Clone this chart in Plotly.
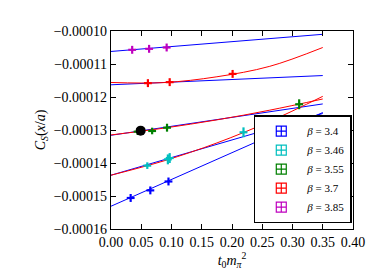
import plotly.graph_objects as go

betas = ["3.4", "3.46", "3.55", "3.7", "3.85"]
colors = ["#0000ff", "#00bfbf", "#008000", "#ff0000", "#bf00bf"]

# data points (t0 m_pi^2, C_S in units of 1e-5)
pts_x = [
    [0.0325, 0.065, 0.095],
    [0.060, 0.094, 0.097, 0.219],
    [0.044, 0.068, 0.0926, 0.311],
    [0.061, 0.097, 0.201],
    [0.035, 0.063, 0.092],
]
pts_y = [
    [-15.06, -14.83, -14.56],
    [-14.08, -13.89, -13.85, -13.07],
    [-13.05, -13.03, -12.93, -12.22],
    [-11.58, -11.55, -11.30],
    [-10.57, -10.54, -10.50],
]
pts_ey = [
    [0.12, 0.12, 0.12],
    [0.10, 0.15, 0.15, 0.15],
    [0.10, 0.10, 0.12, 0.15],
    [0.12, 0.12, 0.12],
    [0.12, 0.12, 0.12],
]
ex = 0.0065

# linear fits (blue), values at x=0 and x=0.35
lin_x = [0.0, 0.35]
lin_y = [
    [-15.31, -12.47],
    [-14.37, -12.50],
    [-13.16, -12.21],
    [-11.63, -11.35],
    [-10.62, -10.10],
]
# curved fits (red), read at these x positions
curv_x = [0.0, 0.0875, 0.175, 0.2625, 0.35]
curv_y = {
    "3.46": [-14.37, -13.935, -13.392, -12.74, -11.98],
    "3.55": [-13.15, -12.943, -12.693, -12.399, -12.06],
    "3.7": [-11.56, -11.563, -11.387, -11.07, -10.50],
}

# physical point marker
phys_x = [0.049]
phys_y = [-13.02]

scale = 1e-5
fig = go.Figure()

for i, b in enumerate(betas):
    fig.add_trace(go.Scatter(x=lin_x, y=[v * scale for v in lin_y[i]], mode="lines",
                             line=dict(color="#0000ff", width=1), showlegend=False,
                             hoverinfo="skip"))
for b, ys in curv_y.items():
    fig.add_trace(go.Scatter(x=curv_x, y=[v * scale for v in ys], mode="lines",
                             line=dict(color="#ff0000", width=1, shape="spline"),
                             showlegend=False, hoverinfo="skip"))

for i, b in enumerate(betas):
    fig.add_trace(go.Scatter(
        x=pts_x[i], y=[v * scale for v in pts_y[i]], mode="markers",
        marker=dict(color=colors[i], size=2),
        error_x=dict(type="constant", value=ex, color=colors[i], thickness=2.2, width=0),
        error_y=dict(type="data", array=[v * scale for v in pts_ey[i]], color=colors[i],
                     thickness=2.2, width=0),
        showlegend=False))

fig.add_trace(go.Scatter(x=phys_x, y=[v * scale for v in phys_y], mode="markers",
                         marker=dict(color="black", size=10), showlegend=False))

for i, b in enumerate(betas):
    fig.add_trace(go.Scatter(x=[None], y=[None], mode="markers",
                             marker=dict(symbol="square-cross-open", size=10, color=colors[i],
                                         line=dict(width=1.2, color=colors[i])),
                             name="<i>β</i> = " + b, showlegend=True))

font = "Liberation Serif"
fig.update_layout(
    width=374, height=280,
    margin=dict(l=103, r=29, t=23, b=59),
    plot_bgcolor="white", paper_bgcolor="white",
    font=dict(family=font, size=14, color="black"),
    showlegend=True,
    legend=dict(x=0.995, xanchor="right", y=0.03, yanchor="bottom",
                bgcolor="white", bordercolor="black", borderwidth=1.5,
                font=dict(family=font, size=11), tracegroupgap=0,
                itemwidth=42),
)
fig.update_xaxes(range=[0, 0.40], dtick=0.05, tick0=0, tickformat=".2f",
                 showline=True, linecolor="black", linewidth=1.3, mirror="ticks",
                 ticks="inside", ticklen=5, tickcolor="black", showgrid=False,
                 zeroline=False,
                 title=dict(text="<i>t</i><sub>0</sub><i>m</i><sub><i>π</i></sub><sup>2</sup>",
                            standoff=3, font=dict(size=14)))
fig.update_yaxes(range=[-0.00016, -0.00010], dtick=0.00001, tick0=-0.0001, tickformat=".5f",
                 showline=True, linecolor="black", linewidth=1.3, mirror="ticks",
                 ticks="inside", ticklen=5, tickcolor="black", showgrid=False,
                 zeroline=False,
                 title=dict(text="<i>C</i><sub><i>S</i></sub>(<i>x</i>/<i>a</i>)",
                            standoff=4, font=dict(size=14)))

fig.write_html("out.html")
